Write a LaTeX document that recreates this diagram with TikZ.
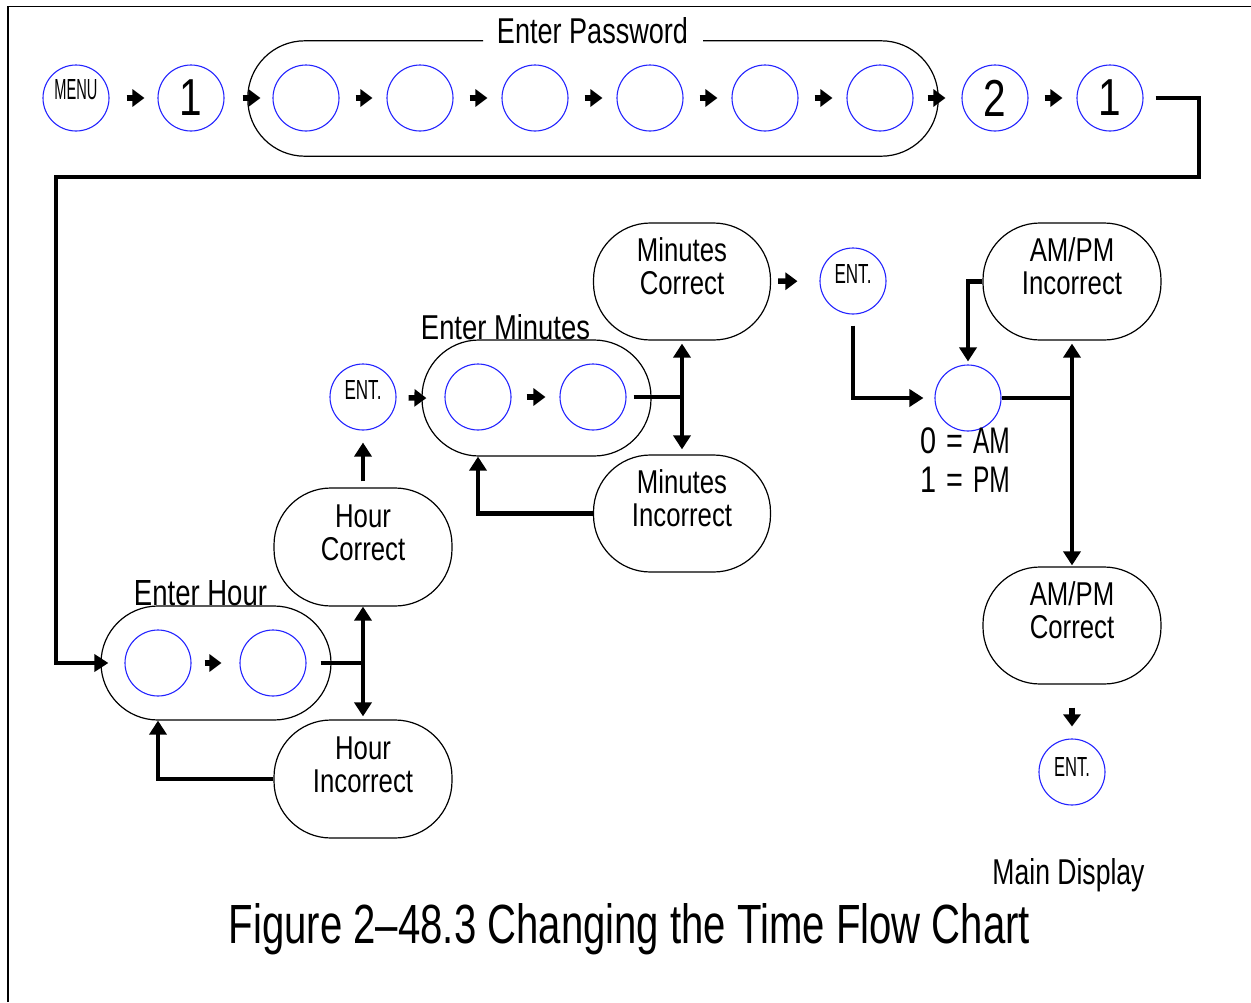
\documentclass[tikz,border=0pt]{standalone}
\usepackage{fontspec}
\setmainfont{Liberation Sans}[FakeStretch=0.78]
\usetikzlibrary{arrows.meta,calc}
\definecolor{kblue}{RGB}{35,35,255}
\newcommand{\fitbox}[3]{\resizebox{#1}{#2}{#3}}
\begin{document}
\begin{tikzpicture}[x=1pt,y=-1pt,
  box/.style={draw=black, line width=1.2pt, rectangle, rounded corners=57pt, inner sep=0pt},
  key/.style={circle, draw=kblue, line width=1.1pt, minimum size=66pt, inner sep=0pt},
  conn/.style={line width=4.5pt, -{Triangle[length=14pt,width=17pt]}},
  both/.style={line width=4.5pt, {Triangle[length=14pt,width=17pt]}-{Triangle[length=14pt,width=17pt]}},
  thk/.style={line width=4.5pt},
  sarr/.style={line width=5.5pt, -{Triangle[length=12pt,width=17pt]}},
  lbl/.style={font=\fontsize{33}{33}\selectfont, align=center},
  num/.style={font=\fontsize{52}{52}\selectfont},
  ampm/.style={font=\fontsize{37}{37}\selectfont, anchor=base west},
]
\useasboundingbox (0,0) rectangle (1251,1002);
\draw[line width=1.3pt] (8,1002) -- (8,6.5) -- (1251,6.5);

% ---------- Enter Password row ----------
\node[inner sep=0pt, minimum width=690pt, minimum height=115pt] (pw) at (593,98.5) {};
\draw[line width=1.2pt, rounded corners=57pt] ([xshift=-110pt]pw.north) -- (pw.north west) -- (pw.south west) -- (pw.south east) -- (pw.north east) -- ([xshift=110pt]pw.north);
\node[anchor=base, inner sep=0pt] (pwt) at (592.5,43) {\fitbox{191pt}{26pt}{Enter Password}};

\node[key, label={[yshift=8pt]center:\fitbox{43pt}{20pt}{MENU}}] (menu) at (76,98) {};
\node[key, num] (n1) at (191,98) {1};
\node[key] (p1) at (306,98) {};
\node[key] (p2) at (420,98) {};
\node[key] (p3) at (535,98) {};
\node[key] (p4) at (650,98) {};
\node[key] (p5) at (765,98) {};
\node[key] (p6) at (880,98) {};
\node[key, num] (n2) at (995,98) {2};
\node[key, num] (n3) at (1110,98) {1};

\draw[sarr, shorten <=17pt, shorten >=13pt] (menu) -- (n1);
\draw[sarr, shorten <=18pt, shorten >=12pt] (n1) -- (p1);
\draw[sarr, shorten <=16pt, shorten >=14pt] (p1) -- (p2);
\draw[sarr, shorten <=16pt, shorten >=14pt] (p2) -- (p3);
\draw[sarr, shorten <=16pt, shorten >=14pt] (p3) -- (p4);
\draw[sarr, shorten <=16pt, shorten >=14pt] (p4) -- (p5);
\draw[sarr, shorten <=16pt, shorten >=14pt] (p5) -- (p6);
\draw[sarr, shorten <=14pt, shorten >=16pt] (p6) -- (n2);
\draw[sarr, shorten <=16pt, shorten >=14pt] (n2) -- (n3);

% ---------- Enter Hour ----------
\node[box, minimum width=230pt, minimum height=114pt] (eh) at (216,663) {};
\node[anchor=base, inner sep=0pt] (eht) at (200.5,605) {\fitbox{133pt}{25pt}{Enter Hour}};
\node[key] (h1) at (158,663) {};
\node[key] (h2) at (273,663) {};
\draw[sarr, shorten <=13pt, shorten >=18pt] (h1) -- (h2);

\coordinate (r1) at (1199,177);
\coordinate (l1) at (56,177);
\draw[conn, shorten <=12pt, shorten >=-8pt] (n3.east) -| (r1) -- (l1) |- (eh.west);

\node[box, minimum width=178pt, minimum height=118pt, label={[lbl,yshift=14pt]center:Hour\\Correct}] (hc) at (363,547) {};
\node[box, minimum width=178pt, minimum height=118pt, label={[lbl,yshift=14pt]center:Hour\\Incorrect}] (hi) at (363,779) {};

\draw[thk, shorten <=14pt] (h2.east) -- (h2.east -| hc.south);
\draw[both, shorten >=3pt] (hc.south) -- (hi.north);
\draw[conn] (hi.west) -| (h1 |- eh.south);

\node[key, label={[yshift=7pt]center:\fitbox{37pt}{19pt}{ENT.}}] (ent1) at (363,397) {};
\draw[conn, shorten <=6pt, shorten >=12pt] (hc.north) -- (ent1.south);

% ---------- Enter Minutes ----------
\node[box, minimum width=229pt, minimum height=116pt] (em) at (536.5,398) {};
\node[anchor=base, inner sep=0pt] (emt) at (505.5,339) {\fitbox{169pt}{25pt}{Enter Minutes}};
\node[key] (m1) at (478,397) {};
\node[key] (m2) at (593,397) {};
\draw[sarr, shorten <=12pt, shorten >=-5pt] (ent1) -- (em.west);
\draw[sarr, shorten <=15pt, shorten >=14pt] (m1) -- (m2);

\node[box, minimum width=177pt, minimum height=117pt, label={[lbl,yshift=15pt]center:Minutes\\Correct}] (mc) at (682,281.5) {};
\node[box, minimum width=177pt, minimum height=117pt, label={[lbl,yshift=15pt]center:Minutes\\Incorrect}] (mi) at (682,513.5) {};

\draw[thk, shorten <=7pt] (m2.east) -- (m2.east -| mc.south);
\draw[both, shorten <=3pt, shorten >=5pt] (mc.south) -- (mi.north);
\draw[conn] (mi.west) -| (m1 |- em.south);

\node[key, label={[yshift=7pt]center:\fitbox{37pt}{19pt}{ENT.}}] (ent2) at (853,281) {};
\draw[sarr, shorten <=7pt, shorten >=22pt] (mc) -- (ent2);

% ---------- AM/PM ----------
\node[key] (am) at (968,398) {};
\node[ampm, inner sep=0pt] (amL) at (920,453) {0\hspace{10pt}=\hspace{10pt}\scalebox{0.85}[1]{AM}};
\node[ampm, inner sep=0pt] (pmL) at (920,492) {1\hspace{10pt}=\hspace{10pt}\scalebox{0.85}[1]{PM}};

\node[box, minimum width=178pt, minimum height=117pt, label={[lbl,yshift=15pt]center:AM/PM\\Incorrect}] (api) at (1072,281.5) {};
\node[box, minimum width=178pt, minimum height=117pt, label={[lbl,yshift=15pt]center:AM/PM\\Correct}] (apc) at (1072,625.5) {};

\draw[conn, shorten <=11pt, shorten >=11pt] (ent2.south) |- (am.west);
\draw[thk] (am.east) -- (am.east -| api.south);
\draw[both, shorten <=3pt, shorten >=1pt] (api.south) -- (apc.north);
\draw[conn, shorten >=3pt] (api.west) -| (am.north);

\node[key, label={[yshift=5.5pt]center:\fitbox{36pt}{19pt}{ENT.}}] (ent3) at (1072,772) {};
\draw[sarr, shorten <=23pt, shorten >=12pt] (apc) -- (ent3);

\node[anchor=base, inner sep=0pt] (md) at (1068.5,884) {\fitbox{152pt}{26pt}{Main Display}};
\node[anchor=base, inner sep=0pt] (cap) at (629.5,943) {\fitbox{801pt}{40pt}{Figure 2--48.3 Changing the Time Flow Chart}};
\end{tikzpicture}
\end{document}
